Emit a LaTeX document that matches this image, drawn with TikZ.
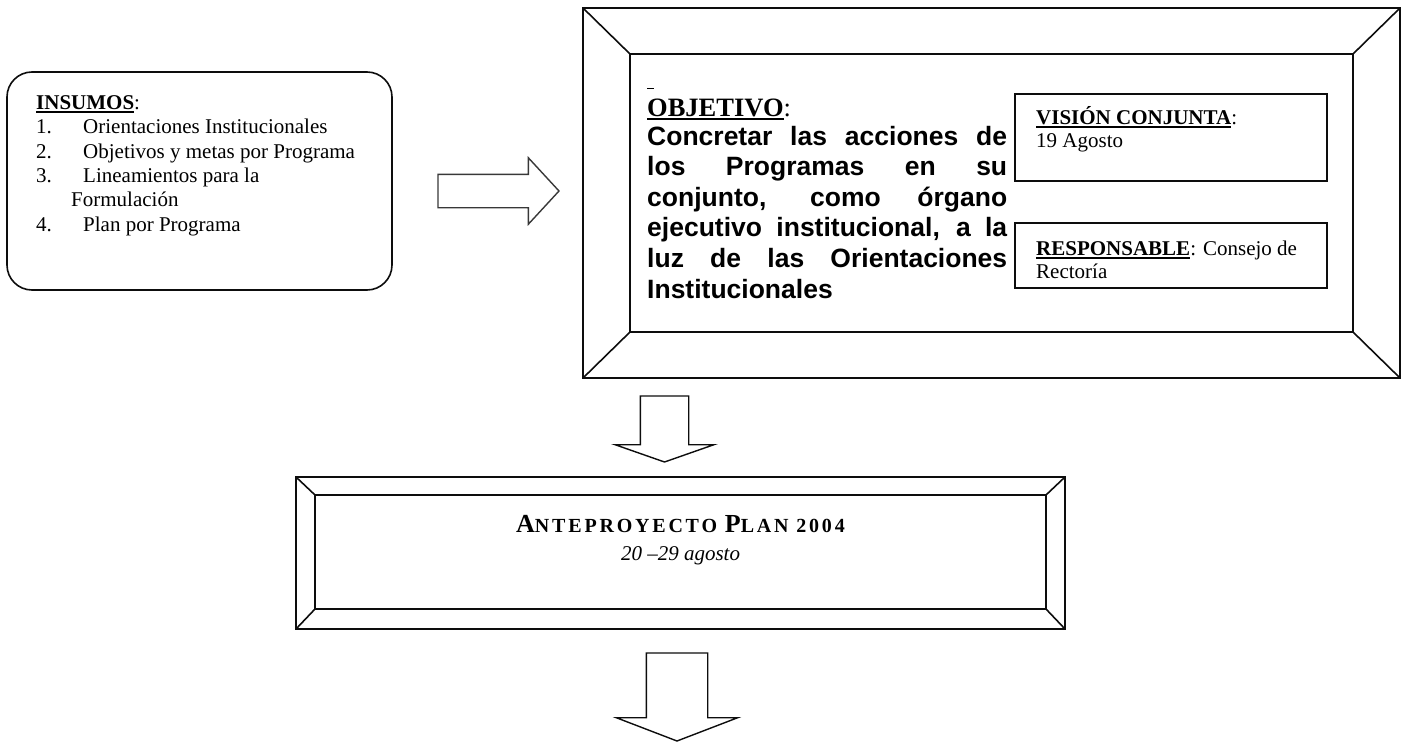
\documentclass[tikz,border=0pt]{standalone}
\usepackage{fontspec}
\setmainfont{Liberation Serif}
\newfontfamily\arialfont{Liberation Sans}
\newfontfamily\algfont[LetterSpace=14]{Liberation Serif}
\usepackage{graphicx}
\usepackage{xcolor}
\usetikzlibrary{shapes.arrows, positioning}
\definecolor{FrameBlack}{gray}{0.05}
\definecolor{ArrowGray}{gray}{0.22}
\newcommand{\ulword}[1]{\leavevmode\vtop{\hbox{#1}\kern1.6pt\hrule height1.8pt}}
\tikzset{%
  bevel_box/.style={%
    rectangle,%
    draw=FrameBlack,%
    line width=1.6pt,%
    inner sep=0pt,%
    outer sep=0pt%
  },
  frame_line/.style={%
    draw=FrameBlack,%
    line width=1.6pt,%
    line cap=round%
  },
  insumos_block/.style={%
    rectangle,%
    rounded corners=25pt,%
    draw=FrameBlack,%
    line width=1.6pt,%
    inner sep=0pt,%
    outer sep=0pt%
  },
  date_block/.style={%
    rectangle,%
    draw=FrameBlack,%
    line width=1.6pt,%
    inner sep=0pt,%
    outer sep=0pt%
  },
  block_arrow/.style={%
    single arrow,%
    draw=FrameBlack,%
    line width=1.4pt,%
    inner xsep=0pt,%
    outer sep=0pt,%
    single arrow head indent=0pt%
  },
  plain_text/.style={%
    inner sep=0pt,%
    font={\fontsize{21}{24.3}\selectfont},%
    align=left%
  },
  goal_text/.style={%
    inner sep=0pt,%
    text width=360pt,%
    align=justify,%
    font={\arialfont\bfseries\fontsize{26.5}{30.6}\selectfont}%
  },
}
\begin{document}
\begin{tikzpicture}[x=1pt, y=-1pt]
  \useasboundingbox (0,0) rectangle (1401,744);

  % insumos
  \node [insumos_block, minimum width=385, minimum height=218] (Insumos) at (199.5,181) {};
  \node [plain_text, anchor=base west] (Insumos_text) at (36,231)
    {\ulword{\bfseries INSUMOS}:\\
     \makebox[47pt][l]{1.}Orientaciones Institucionales\\
     \makebox[47pt][l]{2.}Objetivos y metas por Programa\\
     \makebox[47pt][l]{3.}Lineamientos para la\\
     \hspace*{35pt}Formulación\\
     \makebox[47pt][l]{4.}Plan por Programa};

  \node [block_arrow, draw=ArrowGray, anchor=tail, minimum height=121, inner ysep=16,
    single arrow head extend=16.5, single arrow tip angle=94.6] (Arrow_right) at (438,191) {};

  % objetivo
  \node [bevel_box, minimum width=817, minimum height=370] (Objetivo_outer) at (991.5,193) {};
  \node [bevel_box, minimum width=723, minimum height=278] (Objetivo_inner) at (991.5,193) {};
  \draw [frame_line]
    (Objetivo_outer.north west) -- (Objetivo_inner.north west)
    (Objetivo_outer.north east) -- (Objetivo_inner.north east)
    (Objetivo_outer.south west) -- (Objetivo_inner.south west)
    (Objetivo_outer.south east) -- (Objetivo_inner.south east);

  \node [plain_text, anchor=base west, font={\fontsize{26.5}{30}\selectfont}] (Objetivo_mark) at (647,86)
    {\ulword{\hspace*{7pt}}};
  \node [plain_text, anchor=base west, font={\bfseries\fontsize{26.5}{30}\selectfont}] (Objetivo_title) at (647,116)
    {\ulword{OBJETIVO}\mdseries:};
  \node [goal_text, anchor=base west] (Objetivo_text) at (647,145)
    {Concretar las acciones de\linebreak
     los Programas en su\linebreak
     conjunto, como órgano\linebreak
     ejecutivo institucional, a la\linebreak
     luz de las Orientaciones\linebreak
     Institucionales};

  \node [date_block, minimum width=312, minimum height=87] (Vision) at (1171,137.5) {};
  \node [plain_text, anchor=base west, font={\fontsize{21}{22.5}\selectfont}] (Vision_text) at (1036,147)
    {\ulword{\bfseries VISIÓN CONJUNTA}:\\19 Agosto};

  \node [date_block, minimum width=312, minimum height=65] (Responsable) at (1171,255.5) {};
  \node [plain_text, anchor=base west, font={\fontsize{21}{22.5}\selectfont}] (Responsable_text) at (1036,278)
    {\ulword{\bfseries RESPONSABLE}: Consejo de\\Rectoría};

  \node [block_arrow, rotate=-90, anchor=tail, minimum height=66, inner ysep=23.5,
    single arrow head extend=25, single arrow tip angle=141.4] (Arrow_down1) at (664.5,396) {};

  % anteproyecto
  \node [bevel_box, minimum width=769, minimum height=152] (Plan_outer) at (680.5,553) {};
  \node [bevel_box, minimum width=731, minimum height=114] (Plan_inner) at (680.5,552) {};
  \draw [frame_line]
    (Plan_outer.north west) -- (Plan_inner.north west)
    (Plan_outer.north east) -- (Plan_inner.north east)
    (Plan_outer.south west) -- (Plan_inner.south west)
    (Plan_outer.south east) -- (Plan_inner.south east);

  \node [plain_text, anchor=base, font={\algfont\bfseries\fontsize{20}{20}\selectfont}] (Plan_title) at (680.5,532)
    {{\fontsize{26}{26}\selectfont A}NTEPROYECTO {\fontsize{26}{26}\selectfont P}LAN 2004};
  \node [plain_text, anchor=base, font={\itshape\fontsize{21}{24}\selectfont}] (Plan_date) at (680.5,560)
    {20 –29 agosto};

  \node [block_arrow, rotate=-90, anchor=tail, minimum height=88, inner ysep=30,
    single arrow head extend=30, single arrow tip angle=138] (Arrow_down2) at (677,653) {};
\end{tikzpicture}
\end{document}
